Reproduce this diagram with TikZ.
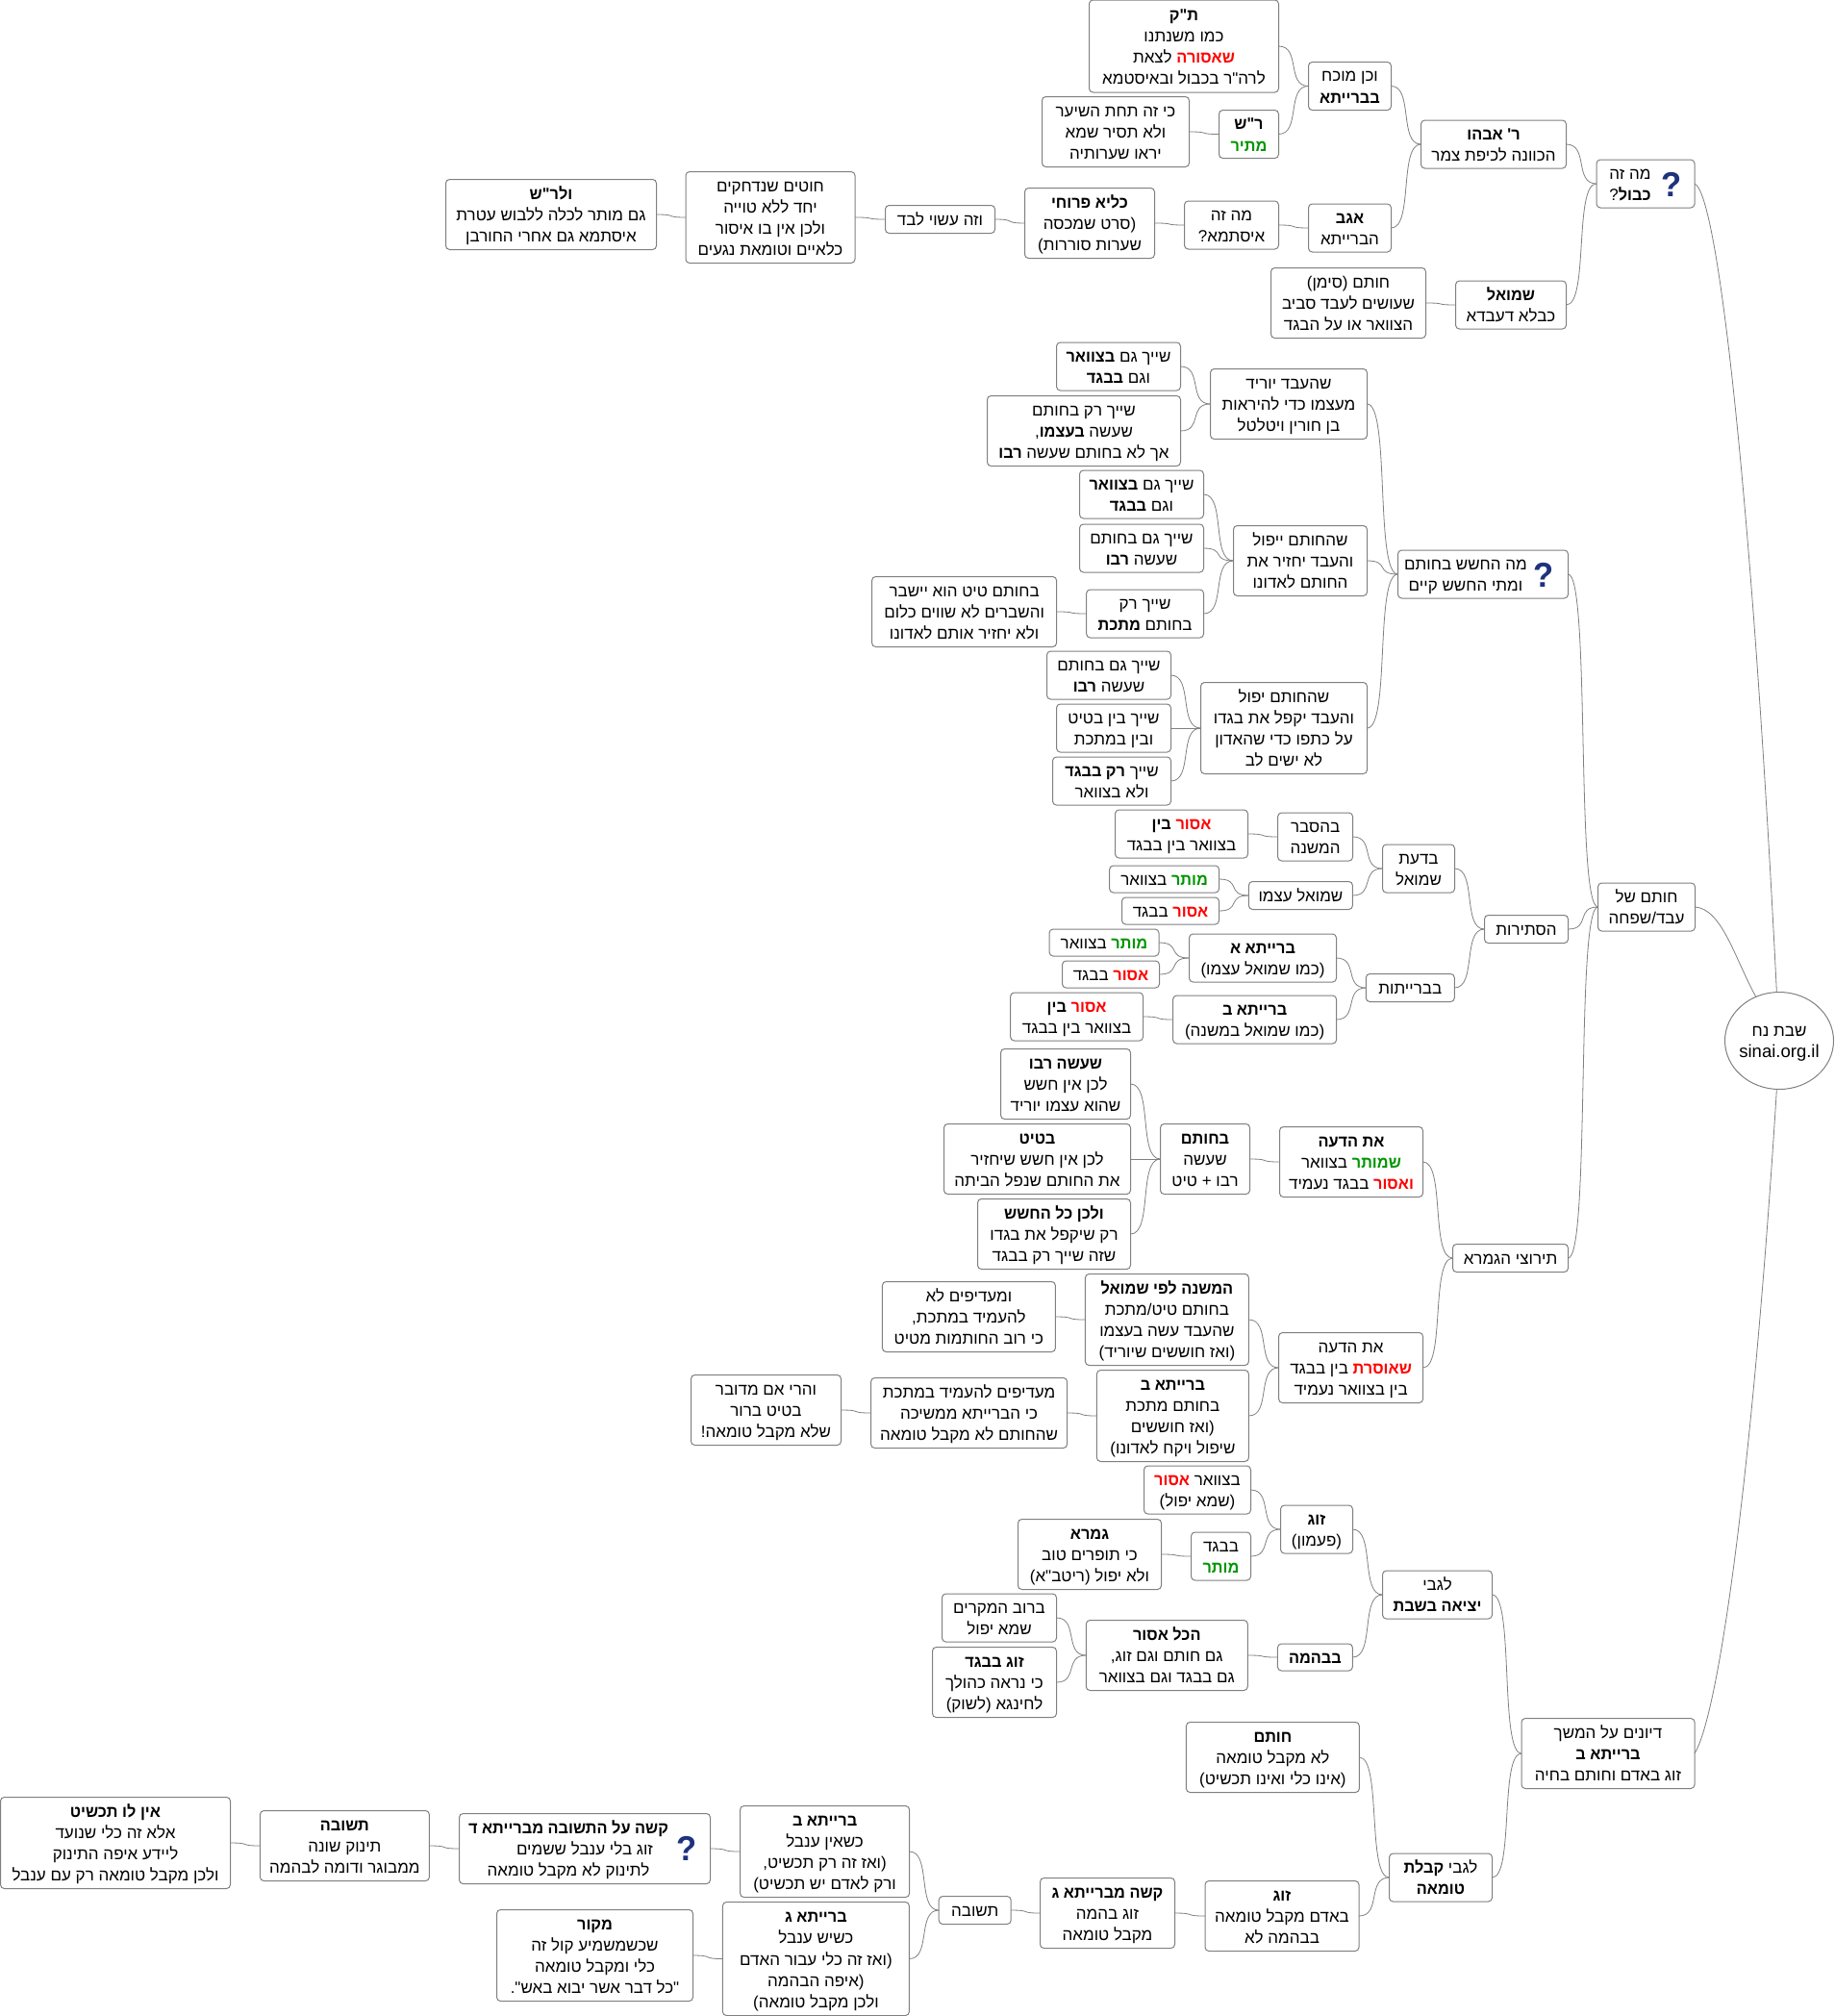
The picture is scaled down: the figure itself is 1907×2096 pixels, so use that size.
\documentclass[tikz,border=0pt]{standalone}
\usepackage{fontspec}
\usetikzlibrary{calc,shapes.geometric}
\newfontfamily\hebfont[Script=Hebrew,BoldFeatures={FakeStretch=0.96}]{Liberation Sans}
\TeXXeTstate=1
\definecolor{boxgray}{RGB}{128,128,128}
\definecolor{okgreen}{RGB}{0,150,0}
\definecolor{iconblue}{RGB}{30,50,125}
\newcommand{\lineup}[1]{\rule{0pt}{13pt}\rule[-4pt]{0pt}{4pt}\raisebox{-2pt}[0pt][0pt]{#1}}
\newcommand{\heb}[1]{\lineup{\beginR #1\endR}}
\newcommand{\no}[1]{\beginL\textcolor{red}{\beginR\textbf{#1}\endR}\endL}
\newcommand{\yes}[1]{\beginL\textcolor{okgreen}{\beginR\textbf{#1}\endR}\endL}
\tikzset{
    idea/.style={draw=boxgray, line width=1pt, rounded corners=4pt, fill=white, inner sep=0pt, outer sep=0pt, align=center, text=black, font=\hebfont\fontsize{17}{22.3}\selectfont},
    boxsize/.style 2 args={minimum width=#1pt, minimum height=#2pt},
    link/.style={draw=boxgray, line width=0.8pt},
    qmark/.style={inner sep=0pt, text=iconblue, font=\hebfont\bfseries\fontsize{36}{36}\selectfont}
}

\begin{document}
\begin{tikzpicture}[x=1pt,y=-1pt]
    \useasboundingbox (0,0) rectangle (1907,2096);

    \node[idea, ellipse, boxsize={113}{101}] (root) at (1850,1082) {\heb{שבת נח}\\\lineup{\makebox[0pt]{\fontsize{18.5}{22}\selectfont sinai.org.il}}};

    \node[idea, boxsize={102}{50}] (kavul) at (1711,191) {\heb{מה זה}\hspace*{32pt}\\\heb{\textbf{כבול}?}\hspace*{32pt}};
    \node[qmark] (kavulq) at (1738,192) {?};
    \node[idea, boxsize={151}{50}] (abahu) at (1553,150) {\heb{\textbf{ר' אבהו}}\\\heb{הכוונה לכיפת צמר}};
    \node[idea, boxsize={86}{50}] (mukhach) at (1403.5,89.5) {\heb{וכן מוכח}\\\heb{\textbf{בברייתא}}};
    \node[idea, boxsize={197}{96}] (tanna) at (1231,48) {\heb{\textbf{ת"ק}}\\\heb{כמו משנתנו}\\\heb{\no{שאסורה} לצאת}\\\heb{לרה"ר בכבול ובאיסטמא}};
    \node[idea, boxsize={62}{50}] (rash) at (1298.5,139.5) {\heb{\textbf{ר"ש}}\\\heb{\yes{מתיר}}};
    \node[idea, boxsize={153}{73}] (rashwhy) at (1160,137) {\heb{כי זה תחת השיער}\\\heb{ולא תסיר שמא}\\\heb{יראו שערותיה}};
    \node[idea, boxsize={86}{50}] (agav) at (1403.5,237) {\heb{\textbf{אגב}}\\\heb{הברייתא}};
    \node[idea, boxsize={98}{50}] (istma) at (1280.5,234) {\heb{מה זה}\\\heb{איסתמא?}};
    \node[idea, boxsize={135}{73}] (kelia) at (1133,232) {\heb{\textbf{כליא פרוחי}}\\\heb{(סרט שמכסה}\\\heb{שערות סוררות)}};
    \node[idea, boxsize={114}{29}] (levad) at (977.5,228) {\heb{וזה עשוי לבד}};
    \node[idea, boxsize={176}{95}] (hutim) at (801,226) {\heb{חוטים שנדחקים}\\\heb{יחד ללא טוייה}\\\heb{ולכן אין בו איסור}\\\heb{כלאיים וטומאת נגעים}};
    \node[idea, boxsize={219}{73}] (lerash) at (573,223) {\heb{\textbf{ולר"ש}}\\\heb{גם מותר לכלה ללבוש עטרת}\\\heb{איסתמא גם אחרי החורבן}};
    \node[idea, boxsize={115}{50}] (shmuel) at (1571,317) {\heb{\textbf{שמואל}}\\\heb{כבלא דעבדא}};
    \node[idea, boxsize={161}{73}] (siman) at (1402,315) {\heb{חותם (סימן)}\\\heb{שעושים לעבד סביב}\\\heb{הצוואר או על הבגד}};

    \node[idea, boxsize={177}{50}] (fear) at (1542,597) {\heb{מה החשש בחותם}\hspace*{36pt}\\\heb{ומתי החשש קיים}\hspace*{36pt}};
    \node[qmark] (fearq) at (1605.5,598) {?};
    \node[idea, boxsize={163}{73}] (yorid) at (1340,420) {\heb{שהעבד יוריד}\\\heb{מעצמו כדי להיראות}\\\heb{בן חורין ויטלטל}};
    \node[idea, boxsize={129}{50}] (yoridneck) at (1163,381) {\heb{שייך גם \textbf{בצוואר}}\\\heb{וגם \textbf{בבגד}}};
    \node[idea, boxsize={201}{73}] (yoridself) at (1127,448) {\heb{שייך רק בחותם}\\\heb{שעשה \textbf{בעצמו},}\\\heb{אך לא בחותם שעשה \textbf{רבו}}};
    \node[idea, boxsize={139}{73}] (yipol) at (1352,583) {\heb{שהחותם ייפול}\\\heb{והעבד יחזיר את}\\\heb{החותם לאדונו}};
    \node[idea, boxsize={129}{50}] (yipolneck) at (1187,514) {\heb{שייך גם \textbf{בצוואר}}\\\heb{וגם \textbf{בבגד}}};
    \node[idea, boxsize={129}{50}] (yipolrabo) at (1187,570) {\heb{שייך גם בחותם}\\\heb{שעשה \textbf{רבו}}};
    \node[idea, boxsize={122}{50}] (yipolmetal) at (1190.6,638) {\heb{שייך רק}\\\heb{בחותם \textbf{מתכת}}};
    \node[idea, boxsize={192}{73}] (clay) at (1002.6,636) {\heb{בחותם טיט הוא יישבר}\\\heb{והשברים לא שווים כלום}\\\heb{ולא יחזיר אותם לאדונו}};
    \node[idea, boxsize={173}{95}] (yakif) at (1335,757) {\heb{שהחותם יפול}\\\heb{והעבד יקפל את בגדו}\\\heb{על כתפו כדי שהאדון}\\\heb{לא ישים לב}};
    \node[idea, boxsize={129}{50}] (yakifrabo) at (1153,702) {\heb{שייך גם בחותם}\\\heb{שעשה \textbf{רבו}}};
    \node[idea, boxsize={119}{50}] (yakifboth) at (1158,757) {\heb{שייך בין בטיט}\\\heb{ובין במתכת}};
    \node[idea, boxsize={123}{50}] (yakifcloth) at (1156,812) {\heb{שייך \textbf{רק בבגד}}\\\heb{ולא בצוואר}};

    \node[idea, boxsize={101}{50}] (hotam) at (1712,943) {\heb{חותם של}\\\heb{עבד/שפחה}};
    \node[idea, boxsize={87}{29}] (stirot) at (1587,966) {\heb{הסתירות}};
    \node[idea, boxsize={75}{50}] (daat) at (1475,903) {\heb{בדעת}\\\heb{שמואל}};
    \node[idea, boxsize={78}{50}] (hesber) at (1367.6,870) {\heb{בהסבר}\\\heb{המשנה}};
    \node[idea, boxsize={138}{50}] (hesberrule) at (1228.5,867) {\heb{\no{אסור} \textbf{בין}}\\\heb{בצוואר בין בבגד}};
    \node[idea, boxsize={108}{29}] (atsmo) at (1352.4,931) {\heb{שמואל עצמו}};
    \node[idea, boxsize={114}{28}] (atsmoyes) at (1210.6,914) {\heb{\yes{מותר} בצוואר}};
    \node[idea, boxsize={101}{28}] (atsmono) at (1217,947) {\heb{\no{אסור} בבגד}};
    \node[idea, boxsize={92}{29}] (beraitot) at (1466.3,1027) {\heb{בברייתות}};
    \node[idea, boxsize={153}{50}] (beraitaA) at (1313,996) {\heb{\textbf{ברייתא א}}\\\heb{(כמו שמואל עצמו)}};
    \node[idea, boxsize={114}{28}] (beraitaAyes) at (1148,980) {\heb{\yes{מותר} בצוואר}};
    \node[idea, boxsize={101}{28}] (beraitaAno) at (1155,1013) {\heb{\no{אסור} בבגד}};
    \node[idea, boxsize={170}{50}] (beraitaB) at (1304.6,1060) {\heb{\textbf{ברייתא ב}}\\\heb{(כמו שמואל במשנה)}};
    \node[idea, boxsize={138}{50}] (beraitaBrule) at (1119.6,1057) {\heb{\no{אסור} \textbf{בין}}\\\heb{בצוואר בין בבגד}};

    \node[idea, boxsize={120}{29}] (answers) at (1570.5,1308) {\heb{תירוצי הגמרא}};
    \node[idea, boxsize={149}{73}] (opinionyes) at (1405,1208) {\heb{\textbf{את הדעה}}\\\heb{\yes{שמותר} בצוואר}\\\heb{\no{ואסור} בבגד נעמיד}};
    \node[idea, boxsize={93}{73}] (sealmade) at (1253,1205) {\heb{\textbf{בחותם}}\\\heb{שעשה}\\\heb{רבו + טיט}};
    \node[idea, boxsize={135}{73}] (byrabo) at (1108,1127) {\heb{\textbf{שעשה רבו}}\\\heb{לכן אין חשש}\\\heb{שהוא עצמו יוריד}};
    \node[idea, boxsize={194}{73}] (byclay) at (1078.5,1205) {\heb{\textbf{בטיט}}\\\heb{לכן אין חשש שיחזיר}\\\heb{את החותם שנפל הביתה}};
    \node[idea, boxsize={159}{73}] (onlyfold) at (1096,1283) {\heb{\textbf{ולכן כל החשש}}\\\heb{רק שיקפל את בגדו}\\\heb{שזה שייך רק בבגד}};
    \node[idea, boxsize={150}{73}] (opinionno) at (1404.6,1422) {\heb{את הדעה}\\\heb{\no{שאוסרת} בין בבגד}\\\heb{בין בצוואר נעמיד}};
    \node[idea, boxsize={170}{95}] (mishna) at (1213.4,1372) {\heb{\textbf{המשנה לפי שמואל}}\\\heb{בחותם טיט/מתכת}\\\heb{שהעבד עשה בעצמו}\\\heb{(ואז חוששים שיוריד)}};
    \node[idea, boxsize={180}{73}] (prefer) at (1007.4,1369) {\heb{ומעדיפים לא}\\\heb{להעמיד במתכת,}\\\heb{כי רוב החותמות מטיט}};
    \node[idea, boxsize={158}{95}] (beraitaBmetal) at (1219.4,1472) {\heb{\textbf{ברייתא ב}}\\\heb{בחותם מתכת}\\\heb{(ואז חוששים}\\\heb{שיפול ויקח לאדונו)}};
    \node[idea, boxsize={204}{73}] (prefermetal) at (1007.6,1469) {\heb{מעדיפים להעמיד במתכת}\\\heb{כי הברייתא ממשיכה}\\\heb{שהחותם לא מקבל טומאה}};
    \node[idea, boxsize={156}{73}] (ifclay) at (796.5,1466) {\heb{והרי אם מדובר}\\\heb{בטיט ברור}\\\heb{שלא מקבל טומאה!}};

    \node[idea, boxsize={180}{73}] (more) at (1672,1823) {\heb{דיונים על המשך}\\\heb{\textbf{ברייתא ב}}\\\heb{זוג באדם וחותם בחיה}};
    \node[idea, boxsize={114}{50}] (going) at (1494.5,1658) {\heb{לגבי}\\\heb{\textbf{יציאה בשבת}}};
    \node[idea, boxsize={75}{50}] (bell) at (1369,1590) {\heb{\textbf{זוג}}\\\heb{(פעמון)}};
    \node[idea, boxsize={111}{50}] (bellneck) at (1245,1549) {\heb{בצוואר \no{אסור}}\\\heb{(שמא יפול)}};
    \node[idea, boxsize={62}{50}] (bellcloth) at (1269.5,1618) {\heb{בבגד}\\\heb{\yes{מותר}}};
    \node[idea, boxsize={149}{73}] (gemara) at (1133,1616) {\heb{\textbf{גמרא}}\\\heb{כי תופרים טוב}\\\heb{ולא יפול (ריטב"א)}};
    \node[idea, boxsize={78}{28}] (animal) at (1367.4,1723) {\heb{\textbf{בבהמה}}};
    \node[idea, boxsize={168}{73}] (allno) at (1213.3,1721) {\heb{\textbf{הכל אסור}}\\\heb{גם חותם וגם זוג,}\\\heb{גם בבגד וגם בצוואר}};
    \node[idea, boxsize={119}{50}] (mostly) at (1039,1682) {\heb{ברוב המקרים}\\\heb{שמא יפול}};
    \node[idea, boxsize={129}{73}] (bellmarket) at (1034,1749) {\heb{\textbf{זוג בבגד}}\\\heb{כי נראה כהולך}\\\heb{לחינגא (לשוק)}};
    \node[idea, boxsize={107}{50}] (impurity) at (1498,1952) {\heb{לגבי \textbf{קבלת}}\\\heb{\textbf{טומאה}}};
    \node[idea, boxsize={180}{73}] (sealpure) at (1323.4,1827) {\heb{\textbf{חותם}}\\\heb{לא מקבל טומאה}\\\heb{(אינו כלי ואינו תכשיט)}};
    \node[idea, boxsize={160}{73}] (bellpure) at (1333,1992) {\heb{\textbf{זוג}}\\\heb{באדם מקבל טומאה}\\\heb{בבהמה לא}};
    \node[idea, boxsize={140}{73}] (hardC) at (1151.5,1989) {\heb{\textbf{קשה מברייתא ג}}\\\heb{זוג בהמה}\\\heb{מקבל טומאה}};
    \node[idea, boxsize={75}{29}] (reply) at (1013.7,1986) {\heb{תשובה}};
    \node[idea, boxsize={176}{95}] (noclapper) at (857.6,1925) {\heb{\textbf{ברייתא ב}}\\\heb{כשאין ענבל}\\\heb{(ואז זה רק תכשיט,}\\\heb{ורק לאדם יש תכשיט)}};
    \node[idea, boxsize={261}{73}] (hardD) at (608,1922) {\heb{\textbf{קשה על התשובה מברייתא ד}}\hspace*{34pt}\\\heb{זוג בלי ענבל ששמים}\hspace*{34pt}\\\heb{לתינוק לא מקבל טומאה}\hspace*{34pt}};
    \node[qmark] (hardDq) at (714,1922) {?};
    \node[idea, boxsize={176}{73}] (baby) at (358.4,1919) {\heb{\textbf{תשובה}}\\\heb{תינוק שונה}\\\heb{ממבוגר ודומה לבהמה}};
    \node[idea, boxsize={239}{95}] (noornament) at (120,1916) {\heb{\textbf{אין לו תכשיט}}\\\heb{אלא זה כלי שנועד}\\\heb{ליידע איפה התינוק}\\\heb{ולכן מקבל טומאה רק עם ענבל}};
    \node[idea, boxsize={194}{118}] (clapper) at (848.4,2036.5) {\heb{\textbf{ברייתא ג}}\\\heb{כשיש ענבל}\\\heb{(ואז זה כלי עבור האדם}\\\heb{(איפה הבהמה}\\\heb{ולכן מקבל טומאה)}};
    \node[idea, boxsize={204}{95}] (source) at (618.5,2033) {\heb{\textbf{מקור}}\\\heb{שכשמשמיע קול זה}\\\heb{כלי ומקבל טומאה}\\\heb{"כל דבר אשר יבוא באש".}};

    \foreach \kid/\head in {tanna/mukhach, rash/mukhach, rashwhy/rash, mukhach/abahu, agav/abahu, istma/agav, kelia/istma, levad/kelia, hutim/levad, lerash/hutim, abahu/kavul, shmuel/kavul, siman/shmuel,
        yorid/fear, yipol/fear, yakif/fear, yoridneck/yorid, yoridself/yorid, yipolneck/yipol, yipolrabo/yipol, yipolmetal/yipol, clay/yipolmetal, yakifrabo/yakif, yakifboth/yakif, yakifcloth/yakif, fear/hotam,
        stirot/hotam, daat/stirot, beraitot/stirot, hesber/daat, atsmo/daat, hesberrule/hesber, atsmoyes/atsmo, atsmono/atsmo, beraitaA/beraitot, beraitaB/beraitot, beraitaAyes/beraitaA, beraitaAno/beraitaA, beraitaBrule/beraitaB,
        answers/hotam, opinionyes/answers, opinionno/answers, sealmade/opinionyes, byrabo/sealmade, byclay/sealmade, onlyfold/sealmade, mishna/opinionno, beraitaBmetal/opinionno, prefer/mishna, prefermetal/beraitaBmetal, ifclay/prefermetal,
        going/more, impurity/more, bell/going, animal/going, bellneck/bell, bellcloth/bell, gemara/bellcloth, allno/animal, mostly/allno, bellmarket/allno, sealpure/impurity, bellpure/impurity, hardC/bellpure, reply/hardC, noclapper/reply, clapper/reply, hardD/noclapper, baby/hardD, noornament/baby, source/clapper}
        \draw[link] let \p1=(\kid.east), \p2=(\head.west), \n1={0.75*(\x2-\x1)} in (\p1) .. controls +(\n1,0) and +(-\n1,0) .. (\p2);

    \draw[link] (kavul.east) .. controls +(25,10) and +(-25,-500) .. (root.93);
    \draw[link] (hotam.east) .. controls +(28,2) and +(-22,-40) .. (root.118);
    \draw[link] (more.east) .. controls +(25,-40) and +(-25,400) .. (root.267);
\end{tikzpicture}
\end{document}
